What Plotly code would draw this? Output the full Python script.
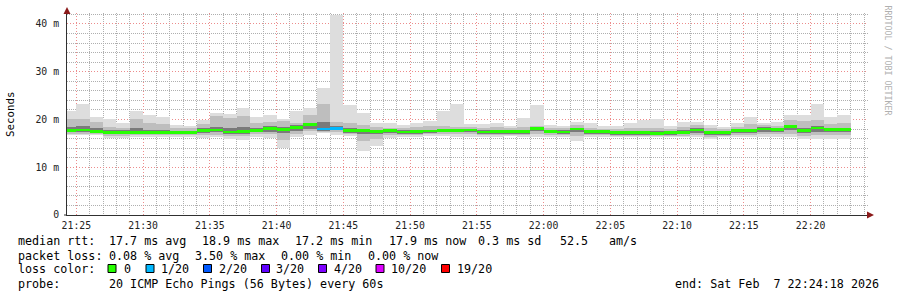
import pandas as pd
import plotly.graph_objects as go

# ---------------- data (ms), one bin per minute, bin start times ----------------
bin_start = pd.date_range("2026-02-07 21:24:00", periods=59, freq="1min")

ping_max = [21.8, 23.2, 20.5, 20.2, 19.2, 21.8, 20.9, 20.5, 18.8, 18.7,
            19.9, 21.3, 21.1, 22.4, 20.5, 20.9, 20.1, 21.8, 22.5, 26.7,
            41.9, 23.0, 21.4, 19.3, 19.3, 18.8, 19.3, 19.7, 21.8, 23.2,
            19.1, 19.0, 19.3, 18.6, 20.3, 23.0, 18.85, 18.6, 19.5, 19.3,
            18.6, 18.6, 19.3, 19.9, 20.2, 18.6, 19.5, 19.5, 18.85, 18.5,
            19.3, 20.6, 19.2, 19.5, 20.9, 20.9, 23.2, 20.6, 20.9]
ping_min = [16.75, 16.75, 16.75, 16.05, 16.05, 16.4, 16.4, 16.4, 16.4, 16.4,
            16.05, 16.4, 15.85, 15.7, 16.4, 16.2, 14.1, 16.4, 16.75, 17.1,
            16.75, 16.5, 13.5, 14.5, 16.1, 16.3, 16.4, 16.5, 16.6, 16.4,
            16.4, 16.4, 16.4, 16.5, 16.4, 16.3, 16.4, 16.3, 15.5, 16.3,
            16.3, 16.3, 16.3, 16.3, 16.3, 16.3, 16.3, 16.3, 15.85, 16.3,
            16.3, 16.3, 16.3, 16.3, 16.3, 15.85, 15.85, 16.0, 15.85]
mid_hi = [20.2, 20.2, 19.5, 18.5, 18.3, 20.0, 19.3, 19.0, 18.3, 18.2,
          19.0, 20.8, 20.3, 20.8, 19.3, 19.5, 19.6, 19.2, 21.0, 23.2,
          19.5, 19.2, 18.8, 18.5, 18.3, 18.2, 18.4, 18.6, 18.6, 18.5,
          18.4, 18.3, 18.4, 18.2, 18.5, 18.7, 18.3, 18.2, 18.8, 18.3,
          18.1, 18.0, 18.3, 18.2, 18.3, 18.1, 18.5, 18.8, 18.3, 18.1,
          18.5, 19.0, 18.8, 18.7, 19.8, 19.6, 19.8, 19.0, 19.3]
mid_lo = [17.0, 17.0, 16.9, 16.6, 16.6, 16.7, 16.7, 16.7, 16.7, 16.7,
          16.7, 16.8, 16.5, 16.5, 16.9, 16.9, 15.8, 17.0, 17.5, 17.3,
          17.3, 16.9, 15.6, 16.0, 16.8, 16.8, 16.8, 16.9, 17.0, 16.9,
          16.9, 16.8, 16.8, 16.8, 16.8, 16.9, 16.8, 16.7, 16.6, 16.7,
          16.7, 16.6, 16.6, 16.6, 16.5, 16.6, 16.6, 16.8, 16.4, 16.6,
          16.8, 16.8, 16.9, 16.9, 17.0, 16.6, 16.7, 16.8, 16.7]
core_hi = [18.4, 18.6, 18.2, 17.8, 17.7, 18.2, 17.8, 17.7, 17.6, 17.6,
           18.2, 18.5, 18.3, 18.4, 18.2, 18.6, 18.4, 18.8, 19.3, 19.4,
           18.7, 18.2, 18.1, 17.9, 17.9, 17.7, 17.8, 17.9, 18.0, 18.0,
           18.1, 17.7, 17.8, 17.7, 17.8, 18.4, 17.8, 17.7, 18.3, 17.8,
           17.7, 17.6, 17.6, 17.6, 17.5, 17.6, 17.7, 18.2, 17.6, 17.5,
           18.0, 18.1, 18.4, 18.2, 18.9, 18.3, 18.6, 18.3, 18.3]
core_lo = [17.3, 17.4, 17.1, 16.9, 16.9, 16.9, 16.9, 16.9, 16.9, 16.9,
           17.2, 17.3, 16.9, 17.0, 17.3, 17.4, 17.1, 17.5, 18.0, 17.6,
           17.7, 17.2, 16.9, 16.9, 17.2, 17.0, 17.0, 17.2, 17.3, 17.3,
           17.3, 17.0, 17.0, 17.0, 17.0, 17.5, 17.1, 17.0, 17.4, 17.0,
           17.0, 16.8, 16.8, 16.8, 16.7, 16.8, 16.9, 17.2, 16.8, 16.8,
           17.2, 17.2, 17.4, 17.3, 17.7, 17.1, 17.4, 17.3, 17.3]
median = [17.7, 17.8, 17.5, 17.3, 17.25, 17.3, 17.25, 17.25, 17.25, 17.25,
          17.65, 17.8, 17.4, 17.5, 17.7, 18.1, 17.9, 18.4, 18.9, 18.0,
          18.15, 17.7, 17.7, 17.45, 17.65, 17.4, 17.45, 17.6, 17.7, 17.7,
          17.8, 17.4, 17.45, 17.45, 17.45, 18.1, 17.5, 17.4, 18.0, 17.45,
          17.45, 17.25, 17.25, 17.25, 17.1, 17.25, 17.25, 17.8, 17.25, 17.25,
          17.7, 17.7, 18.0, 17.9, 18.5, 17.7, 18.2, 17.9, 17.9]
loss = [0] * 19 + [1, 1] + [0] * 38   # lost pings out of 20 per bin

loss_levels = ["0", "1/20", "2/20", "3/20", "4/20", "10/20", "19/20"]
loss_values = [0, 1, 2, 3, 4, 10, 19]
loss_colors = ["#26ff00", "#00b8ff", "#0059ff", "#5e00ff", "#7e00ff", "#dd00ff", "#ff0000"]

y_ticks = [0, 10, 20, 30, 40]
y_ticktext = ["0", "10 m", "20 m", "30 m", "40 m"]
y_minor_ticks = [v for v in range(2, 43, 2) if v % 10 != 0]
x_minor_ticks = [t for t in pd.date_range("2026-02-07 21:25:00", "2026-02-07 22:24:00", freq="1min")
                 if t.minute % 5 != 0]

stats_rtt = ["median rtt:", "17.7 ms avg", "18.9 ms max", "17.2 ms min", "17.9 ms now",
             "0.3 ms sd", "52.5", "am/s"]
stats_rtt_x = [16, 107, 200, 293.3, 386.7, 476, 558.3, 607.3]
stats_loss = ["packet loss:", "0.08 % avg", "3.50 % max", "0.00 % min", "0.00 % now"]
stats_loss_x = [16, 107, 193.3, 279.3, 366]
probe_text = "20 ICMP Echo Pings (56 Bytes) every 60s"
end_text = "end: Sat Feb  7 22:24:18 2026"

# ---------------- layout geometry (pixels) ----------------
W, H = 897, 297
L, R, T, B = 67, 29, 13, 82
PW, PH = W - L - R, H - T - B
MONO = "DejaVu Sans Mono"
MAJOR = "rgb(236,140,140)"
MINOR = "rgb(175,175,175)"
DOT_MAJOR = "1px,2px"
DOT_MINOR = "1px,1px"


def px(xp):
    return (xp - L) / PW


def py(yp):
    return (H - B - yp) / PH


def loss_color(n):
    col = loss_colors[0]
    for v, c in zip(loss_values, loss_colors):
        if n >= v:
            col = c
    return col


fig = go.Figure()

bands = [(ping_min, ping_max, "#dddddd"),
         (mid_lo, mid_hi, "#bebebe"),
         (core_lo, core_hi, "#7a7a7a")]
for lo, hi, col in bands:
    fig.add_trace(go.Bar(
        x=bin_start, base=lo, y=[h - l for h, l in zip(hi, lo)],
        width=60000, offset=0, marker=dict(color=col, line=dict(width=0)),
        hoverinfo="skip", showlegend=False))

med_half = 0.29
fig.add_trace(go.Bar(
    x=bin_start, base=[m - med_half for m in median], y=[2 * med_half] * len(median),
    width=60000, offset=0,
    marker=dict(color=[loss_color(n) for n in loss], line=dict(width=0)),
    hoverinfo="skip", showlegend=False))

fig.update_layout(
    width=W, height=H, margin=dict(l=L, r=R, t=T, b=B),
    paper_bgcolor="white", plot_bgcolor="white",
    barmode="overlay", bargap=0,
    font=dict(family=MONO, size=10, color="#000"),
    showlegend=False,
)

fig.update_xaxes(
    type="date",
    range=["2026-02-07 21:24:18", "2026-02-07 22:24:18"],
    tick0="2026-02-07 21:25:00", dtick=300000, tickformat="%H:%M",
    showgrid=True, gridcolor=MAJOR, griddash=DOT_MAJOR, gridwidth=1,
    minor=dict(tickvals=x_minor_ticks, showgrid=True,
               gridcolor=MINOR, griddash=DOT_MINOR, gridwidth=1),
    showline=True, linecolor="#303030", linewidth=1,
    ticks="", tickfont=dict(family=MONO, size=9.8, color="#222"),
    ticklabelstandoff=1, zeroline=False, fixedrange=True,
)
fig.update_yaxes(
    range=[0, 42.3], tickvals=y_ticks, ticktext=y_ticktext,
    showgrid=True, gridcolor=MAJOR, griddash=DOT_MAJOR, gridwidth=1,
    minor=dict(tickvals=y_minor_ticks, showgrid=True, gridcolor=MINOR,
               griddash=DOT_MINOR, gridwidth=1),
    showline=True, linecolor="#303030", linewidth=1,
    ticks="", tickfont=dict(family=MONO, size=9.8, color="#222"),
    ticklabelstandoff=5, zeroline=False, fixedrange=True,
)

shapes = []
# y axis extension + arrow
shapes.append(dict(type="line", xref="paper", yref="paper", x0=0, x1=0, y0=1, y1=py(10),
                   line=dict(color="#303030", width=1), layer="above"))
shapes.append(dict(type="path", xref="paper", yref="paper",
                   path=f"M {px(67)} {py(7)} L {px(63.5)} {py(14)} L {px(70.5)} {py(14)} Z",
                   fillcolor="#8b1a1a", line=dict(width=0), layer="above"))
# x axis extension + arrow
shapes.append(dict(type="line", xref="paper", yref="paper", x0=px(64), x1=0, y0=0, y1=0,
                   line=dict(color="#303030", width=1), layer="above"))
shapes.append(dict(type="path", xref="paper", yref="paper",
                   path=f"M {px(874)} {py(215)} L {px(867)} {py(211.5)} L {px(867)} {py(218.5)} Z",
                   fillcolor="#8b1a1a", line=dict(width=0), layer="above"))

ann = []
ann.append(dict(text="Seconds", xref="paper", yref="paper", x=px(10), y=py(114),
                textangle=-90, showarrow=False, xanchor="center", yanchor="middle",
                font=dict(family=MONO, size=10.8, color="#000")))
ann.append(dict(text="RRDTOOL / TOBI OETIKER", xref="paper", yref="paper",
                x=px(887.5), y=py(60), textangle=90, showarrow=False,
                xanchor="center", yanchor="middle",
                font=dict(family=MONO, size=8.3, color="#b0b0b0")))

LEG = dict(family=MONO, size=11.7, color="#000")
row_y = [241, 255.5, 269.3, 283.8]
for t, xx in zip(stats_rtt, stats_rtt_x):
    ann.append(dict(text=t, xref="paper", yref="paper", x=px(xx), y=py(row_y[0]),
                    showarrow=False, xanchor="left", yanchor="middle", font=LEG))
for t, xx in zip(stats_loss, stats_loss_x):
    ann.append(dict(text=t, xref="paper", yref="paper", x=px(xx), y=py(row_y[1]),
                    showarrow=False, xanchor="left", yanchor="middle", font=LEG))
ann.append(dict(text="loss color:", xref="paper", yref="paper", x=px(16), y=py(row_y[2]),
                showarrow=False, xanchor="left", yanchor="middle", font=LEG))
square_x = [108, 146, 203.5, 261.5, 318.5, 376, 441.5]
label_x = [121.7, 158.5, 216.5, 274, 331.5, 389, 455]
for lbl, col, sx, lx in zip(loss_levels, loss_colors, square_x, label_x):
    shapes.append(dict(type="rect", xref="paper", yref="paper",
                       x0=px(sx), x1=px(sx + 8), y0=py(272.5), y1=py(264.5),
                       fillcolor=col, line=dict(color="#000", width=1)))
    ann.append(dict(text=lbl, xref="paper", yref="paper", x=px(lx), y=py(row_y[2]),
                    showarrow=False, xanchor="left", yanchor="middle", font=LEG))
ann.append(dict(text="probe:", xref="paper", yref="paper", x=px(16), y=py(row_y[3]),
                showarrow=False, xanchor="left", yanchor="middle", font=LEG))
ann.append(dict(text=probe_text, xref="paper", yref="paper", x=px(107), y=py(row_y[3]),
                showarrow=False, xanchor="left", yanchor="middle", font=LEG))
ann.append(dict(text=end_text.replace("  ", "&nbsp; "), xref="paper", yref="paper",
                x=px(881), y=py(row_y[3]),
                showarrow=False, xanchor="right", yanchor="middle", font=LEG))

fig.update_layout(shapes=shapes, annotations=ann)
fig.write_html("out.html")
